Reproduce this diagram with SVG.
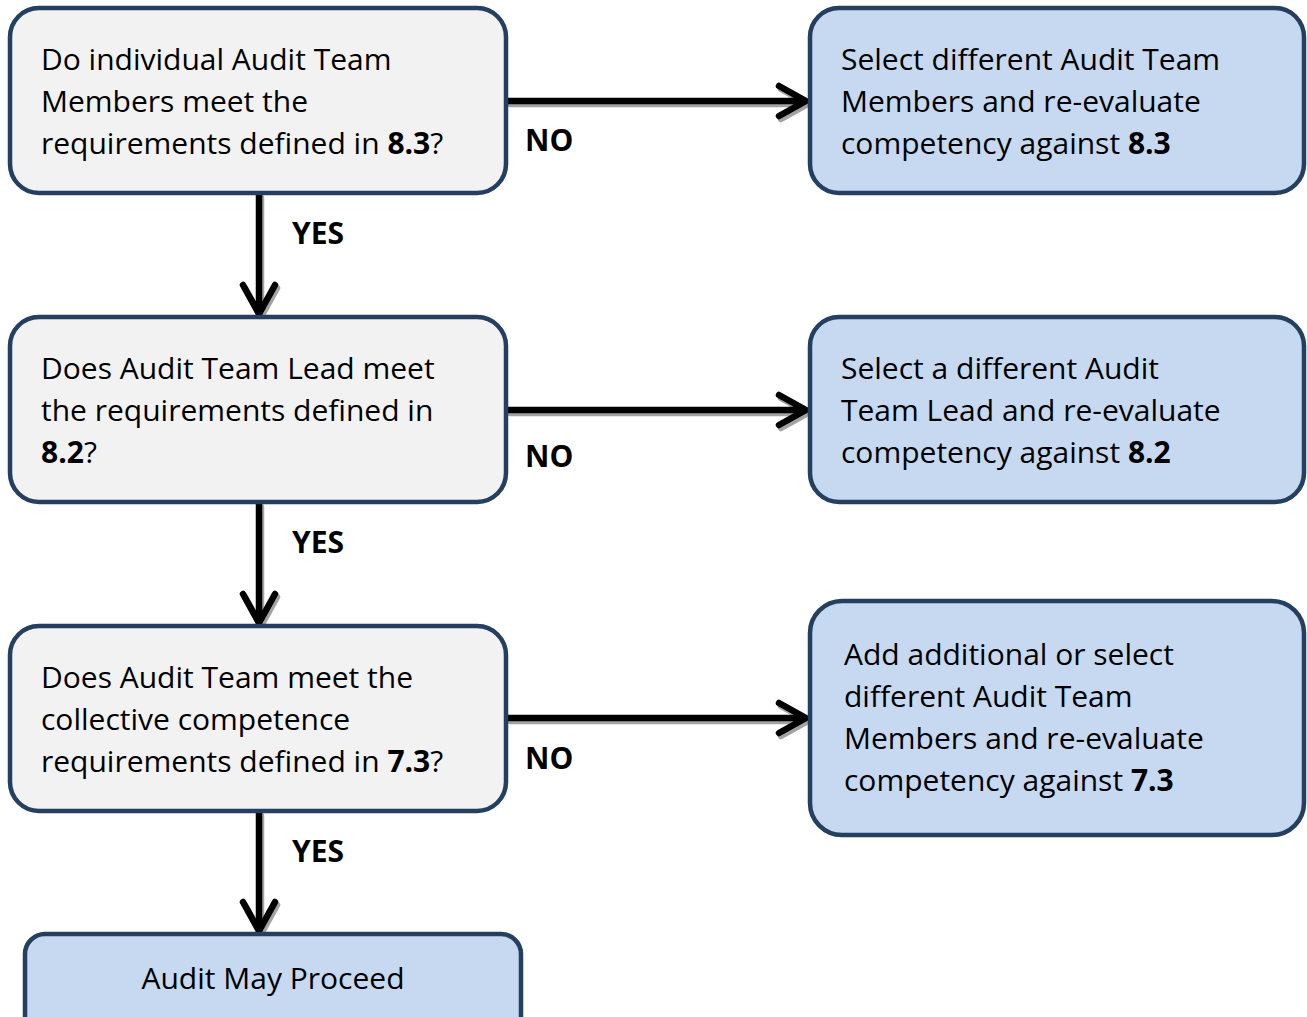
<svg xmlns="http://www.w3.org/2000/svg" width="1307" height="1017" viewBox="0 0 1307 1017">
<style>
.q{fill:#F2F2F2;stroke:#243F60;stroke-width:4.5}
.a{fill:#C6D9F1;stroke:#243F60;stroke-width:4.5}
text{font-family:"Open Sans","Noto Sans",sans-serif;font-size:30px;fill:#000}
.b{font-weight:bold}
.lbl{font-weight:bold;font-size:30px}
.c{text-anchor:middle}
.ln{fill:none;stroke:#000;stroke-width:6.5;stroke-linecap:round;stroke-linejoin:round}
.sh{fill:none;stroke:#8c8c8c;stroke-width:6.5;stroke-linecap:round;stroke-linejoin:round;opacity:0.8}
</style>
<rect width="1307" height="1017" fill="#fff"/>
<g id="connectors">
<g transform="translate(2,3)">
<path class="sh" d="M259 195V314M243 285L259 314L275 285"/>
<path class="sh" d="M259 504V623M243 594L259 623L275 594"/>
<path class="sh" d="M259 813V931M243 902L259 931L275 902"/>
<path class="sh" d="M508 101H805M779 86L806 101L779 116"/>
<path class="sh" d="M508 410H805M779 395L806 410L779 425"/>
<path class="sh" d="M508 718H805M779 703L806 718L779 733"/>
</g>
<path class="ln" d="M259 195V314M243 285L259 314L275 285"/>
<path class="ln" d="M259 504V623M243 594L259 623L275 594"/>
<path class="ln" d="M259 813V931M243 902L259 931L275 902"/>
<path class="ln" d="M508 101H805M779 86L806 101L779 116"/>
<path class="ln" d="M508 410H805M779 395L806 410L779 425"/>
<path class="ln" d="M508 718H805M779 703L806 718L779 733"/>
<text class="lbl" x="292" y="244">YES</text>
<text class="lbl" x="292" y="553">YES</text>
<text class="lbl" x="292" y="862">YES</text>
<text class="lbl" x="525" y="151">NO</text>
<text class="lbl" x="525" y="467">NO</text>
<text class="lbl" x="525" y="769">NO</text>
</g>
<g id="q1">
<rect class="q" x="10" y="8" width="496" height="185" rx="29"/>
<text x="41" y="70">Do individual Audit Team</text>
<text x="41" y="112">Members meet the</text>
<text x="41" y="154">requirements defined in <tspan class="b">8.3</tspan>?</text>
</g>
<g id="a1">
<rect class="a" x="810" y="8" width="494" height="185" rx="29"/>
<text x="841" y="70">Select different Audit Team</text>
<text x="841" y="112">Members and re-evaluate</text>
<text x="841" y="154">competency against <tspan class="b">8.3</tspan></text>
</g>
<g id="q2">
<rect class="q" x="10" y="317" width="496" height="185" rx="29"/>
<text x="41" y="379">Does Audit Team Lead meet</text>
<text x="41" y="421">the requirements defined in</text>
<text x="41" y="463"><tspan class="b">8.2</tspan>?</text>
</g>
<g id="a2">
<rect class="a" x="810" y="317" width="494" height="185" rx="29"/>
<text x="841" y="379">Select a different Audit</text>
<text x="841" y="421">Team Lead and re-evaluate</text>
<text x="841" y="463">competency against <tspan class="b">8.2</tspan></text>
</g>
<g id="q3">
<rect class="q" x="10" y="626" width="496" height="185" rx="29"/>
<text x="41" y="688">Does Audit Team meet the</text>
<text x="41" y="730">collective competence</text>
<text x="41" y="772">requirements defined in <tspan class="b">7.3</tspan>?</text>
</g>
<g id="a3">
<rect class="a" x="810" y="601" width="494" height="234" rx="32"/>
<text x="844" y="665">Add additional or select</text>
<text x="844" y="707">different Audit Team</text>
<text x="844" y="749">Members and re-evaluate</text>
<text x="844" y="791">competency against <tspan class="b">7.3</tspan></text>
</g>
<g id="end">
<rect class="a" x="25" y="934" width="496" height="120" rx="20"/>
<text class="c" x="273" y="989">Audit May Proceed</text>
</g>
</svg>
